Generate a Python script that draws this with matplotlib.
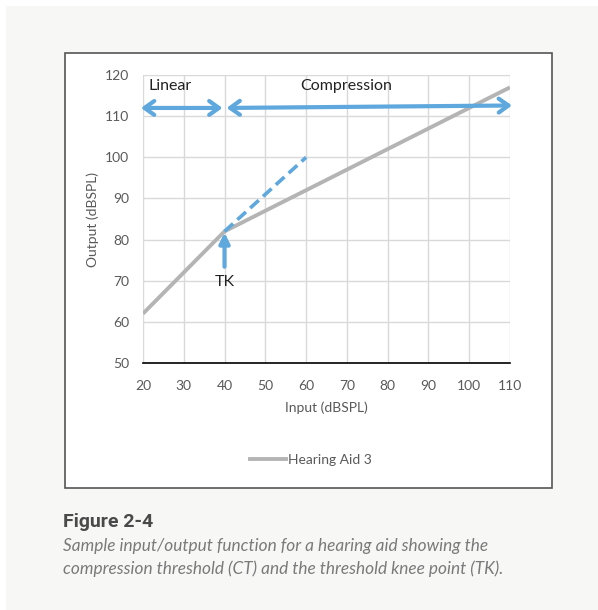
import matplotlib.pyplot as plt
from matplotlib.patches import Rectangle
from matplotlib.lines import Line2D

# data
input_db = [20, 40, 110]
output_db = [62, 82, 117]
linear_input = [40, 60]
linear_output = [82, 100]
knee_x = 40
knee_y = 82

x_ticks = [20, 30, 40, 50, 60, 70, 80, 90, 100, 110]
y_ticks = [50, 60, 70, 80, 90, 100, 110, 120]

gray_line = "#b4b4b4"
blue = "#5fa8dd"
txt_gray = "#595959"

plt.rcParams["font.family"] = ["Lato", "DejaVu Sans"]

fig = plt.figure(figsize=(5.98, 6.10), dpi=100)
fig.patch.set_facecolor("white")

# light panel and chart frame
fig.patches.append(Rectangle((0.010, 0.0), 0.99, 0.990, transform=fig.transFigure,
                             facecolor="#f7f7f6", edgecolor="none", zorder=-3))
fig.patches.append(Rectangle((0.1079, 0.200), 0.815, 0.713, transform=fig.transFigure,
                             facecolor="white", edgecolor="#555555", lw=1.2, zorder=-2))

ax = fig.add_axes([0.2391, 0.4049, 0.6137, 0.4721])
ax.set_facecolor("none")

ax.plot(input_db, output_db, color=gray_line, lw=2.8, solid_capstyle="butt", zorder=3)
ax.plot(linear_input, linear_output, color=blue, lw=2.6, dashes=(3.2, 1.6), zorder=4)

ax.set_xlim(20, 110)
ax.set_ylim(50, 120)
ax.set_xticks(x_ticks)
ax.set_yticks(y_ticks)
ax.grid(True, color="#d9d9d9", lw=1)
ax.set_axisbelow(True)
for s in ["top", "right", "left"]:
    ax.spines[s].set_visible(False)
ax.spines["bottom"].set_color("black")
ax.spines["bottom"].set_linewidth(1.2)
ax.tick_params(axis="x", length=0, labelsize=10, labelcolor=txt_gray, pad=12)
ax.tick_params(axis="y", length=0, labelsize=10, labelcolor=txt_gray, pad=10)
ax.set_xlabel("Input (dBSPL)", fontsize=10, color=txt_gray, labelpad=7)
ax.set_ylabel("Output (dBSPL)", fontsize=10, color=txt_gray, labelpad=4)

# region arrows
arrow = dict(arrowstyle="<->,head_length=0.7,head_width=0.5", color=blue, lw=3,
             shrinkA=0, shrinkB=0)
ax.annotate("", xy=(19.5, 112), xytext=(39.5, 112), xycoords="data",
            arrowprops=arrow, annotation_clip=False)
ax.annotate("", xy=(40.5, 112), xytext=(110.5, 112.6), xycoords="data",
            arrowprops=arrow, annotation_clip=False)
ax.text(26.6, 117.4, "Linear", fontsize=11.5, color="#222222", ha="center", va="center")
ax.text(69.8, 117.4, "Compression", fontsize=11.5, color="#222222", ha="center", va="center")

# knee arrow
ax.annotate("", xy=(knee_x, knee_y - 0.3), xytext=(knee_x, 73.4),
            arrowprops=dict(arrowstyle="-|>,head_length=0.6,head_width=0.3", color=blue,
                            lw=3, shrinkA=0, shrinkB=0))
ax.text(knee_x, 69.6, "TK", fontsize=11.5, color="#222222", ha="center", va="center")

handle = Line2D([], [], color=gray_line, lw=2.8)
fig.legend([handle], ["Hearing Aid 3"], loc="center", bbox_to_anchor=(0.52, 1 - 460 / 610),
           frameon=False, handlelength=2.6, handletextpad=0.1, fontsize=10,
           labelcolor=txt_gray)

fig.text(63 / 598, 1 - 522 / 610, "Figure 2-4", fontsize=14, fontweight="bold",
         color="#4a4a4a", family=["Roboto", "DejaVu Sans"], va="center")
fig.text(63 / 598, 1 - 546 / 610,
         "Sample input/output function for a hearing aid showing the",
         fontsize=12.4, style="italic", color="#7a7a7a", family=["Lato", "DejaVu Sans"],
         va="center")
fig.text(63 / 598, 1 - 569 / 610,
         "compression threshold (CT) and the threshold knee point (TK).",
         fontsize=12.4, style="italic", color="#7a7a7a", family=["Lato", "DejaVu Sans"],
         va="center")

fig.savefig("out.png", dpi=100)
